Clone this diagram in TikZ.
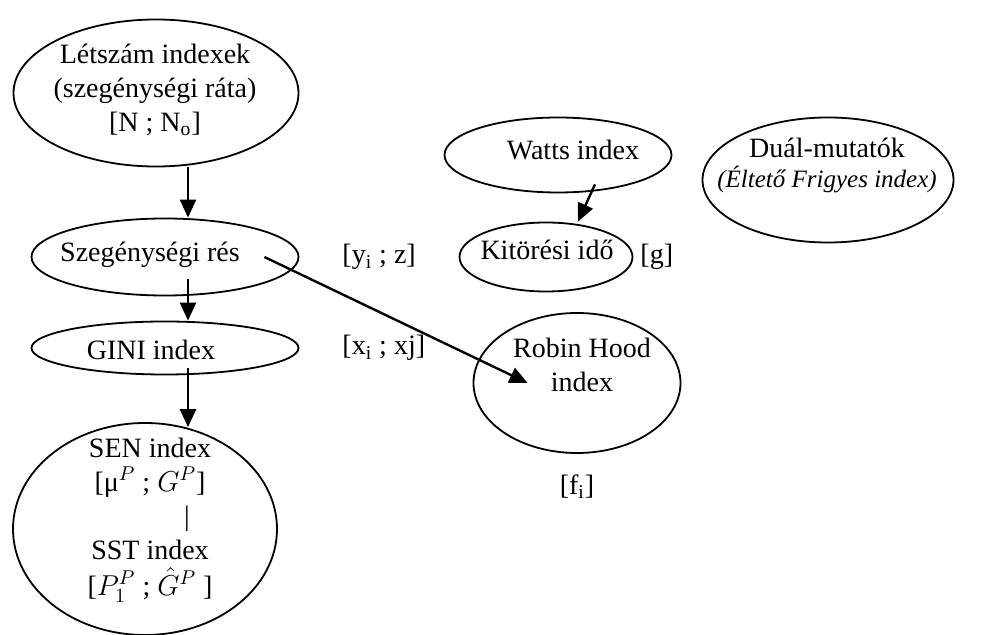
\documentclass[tikz,border=0pt]{standalone}
\usepackage{fontspec}
\setmainfont{Liberation Serif}
\usetikzlibrary{positioning, shapes.geometric, arrows.meta}

\begin{document}
\begin{tikzpicture}[x=0.5pt, y=-0.5pt, font=\fontsize{14}{17}\selectfont,
    bubble/.style={ellipse, draw, line width=0.9pt},
    arr/.style={-{Triangle[length=9pt, width=8pt]}, line width=1.2pt}]
    \useasboundingbox (0,0) rectangle (981,635);
    % Ellipse: Letszam indexek
    \node[bubble, minimum width=142.5pt, minimum height=73.5pt] (letszam) at (156,93) {};
    \node[align=center] (letszamText) at (155,90) {Létszám indexek\\(szegénységi ráta)\\{[}N ; N\textsubscript{o}{]}};
    % Ellipse: Szegenysegi res
    \node[bubble, minimum width=133.5pt, minimum height=38.5pt] (szeg) at (165,257) {};
    \node (szegText) at (150,255) {Szegénységi rés};
    \node[right=18pt of szeg] (yLabel) {[y\textsubscript{i} ; z]};
    % Ellipse: GINI index
    \node[bubble, minimum width=133.5pt, minimum height=26.5pt] (gini) at (165,348) {};
    \node (giniText) at (151,350) {GINI index};
    \node[right=18pt of gini] (xLabel) {[x\textsubscript{i} ; xj]};
    % Ellipse: SEN / SST index
    \node[bubble, minimum width=132pt, minimum height=106pt] (sen) at (145,529) {};
    \node[align=center] (senText) at (150,520) {SEN index\\{[}μ$^P$ ; $G^P${]}\\\hspace*{37pt}|\\SST index\\[1pt]{[}$P_1^P$ ; $\hat{G}^P$ {]}};
    % Ellipse: Watts index
    \node[bubble, minimum width=113.5pt, minimum height=37.5pt] (watts) at (558,155) {};
    \node (wattsText) at (573,150) {Watts index};
    % Ellipse: Kitoresi ido
    \node[bubble, minimum width=86.5pt, minimum height=34.5pt] (kit) at (546,257) {};
    \node (kitText) at (547,250) {Kitörési idő};
    \node[right=0pt of kit] (gLabel) {[g]};
    % Ellipse: Dual-mutatok
    \node[bubble, minimum width=125.5pt, minimum height=62.5pt] (dual) at (828,180) {};
    \node[align=center, font=\fontsize{14}{15}\selectfont] (dualText) at (827,165) {Duál-mutatók\\{\fontsize{12.5}{15}\selectfont\itshape (Éltető Frigyes index)}};
    % Ellipse: Robin Hood index
    \node[bubble, minimum width=103.5pt, minimum height=70pt] (robin) at (577,383) {};
    \node[align=center] (robinText) at (582,365) {Robin Hood\\index};
    \node[below=7pt of robin] (fLabel) {[f\textsubscript{i}]};
    % Arrows
    \coordinate (axis) at (188,0);
    \draw[arr] (letszam.south -| axis) -- (szeg.north -| axis);
    \draw[arr, shorten <=-8.5pt] (szeg.south -| axis) -- (gini.north -| axis);
    \draw[arr, shorten <=-3.5pt, shorten >=-2.5pt] (gini.south -| axis) -- (sen.north -| axis);
    \draw[arr] ([xshift=-17.5pt]szeg.east) -- ([xshift=27.5pt]robin.west);
    \draw[arr] ([xshift=18.5pt, yshift=4.5pt]watts.south) -- ([xshift=16pt]kit.north);
\end{tikzpicture}
\end{document}
